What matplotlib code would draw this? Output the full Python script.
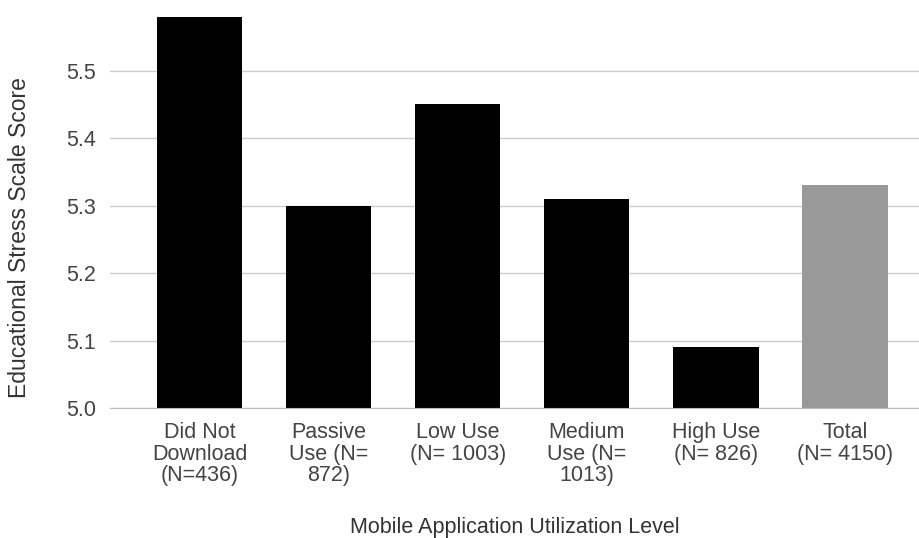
import matplotlib.pyplot as plt

plt.rcParams['font.family'] = ['Liberation Sans', 'DejaVu Sans']

categories = ["Did Not\nDownload\n(N=436)", "Passive\nUse (N=\n872)", "Low Use\n(N= 1003)",
              "Medium\nUse (N=\n1013)", "High Use\n(N= 826)", "Total\n(N= 4150)"]
scores = [5.58, 5.30, 5.45, 5.31, 5.09, 5.33]
colors = ["#000000"] * 5 + ["#999999"]

fig = plt.figure(figsize=(9.19, 5.38), dpi=100)
ax = fig.add_axes([110 / 919, 130 / 538, 809 / 919, 398 / 538])

x = range(len(scores))
ax.bar(x, [s - 5.0 for s in scores], bottom=5.0, width=0.66, color=colors, zorder=3)

ax.set_xlim(-0.693, 5.573)
ax.set_ylim(5.0, 5.59)
ax.set_yticks([5.0, 5.1, 5.2, 5.3, 5.4, 5.5])
ax.set_yticklabels(["5.0", "5.1", "5.2", "5.3", "5.4", "5.5"])
ax.set_xticks(list(x))
ax.set_xticklabels(categories, linespacing=1.05)

ax.grid(axis='y', color='#cccccc', linewidth=1, zorder=0)
for side in ['top', 'right', 'left']:
    ax.spines[side].set_visible(False)
ax.spines['bottom'].set_color('#bbbbbb')
ax.spines['bottom'].set_zorder(4)
ax.tick_params(axis='both', length=0, labelsize=15.5, labelcolor='#444444')
ax.tick_params(axis='x', pad=10)
ax.tick_params(axis='y', pad=10)

fig.text(0.5 * (110 + 919) / 919, 1 - 528 / 538, "Mobile Application Utilization Level",
         ha='center', va='center', fontsize=15.5, color='#333333')
fig.text(20 / 919, 1 - 238 / 538, "Educational Stress Scale Score", rotation=90,
         ha='center', va='center', fontsize=16.5, color='#333333')

fig.savefig("out.png", dpi=100)
